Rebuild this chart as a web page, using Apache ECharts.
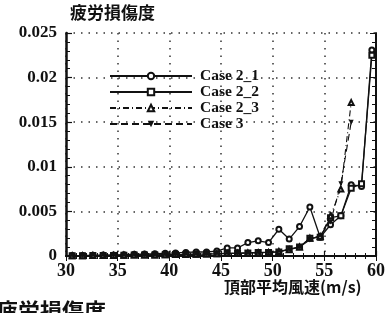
<!DOCTYPE html>
<html>
<head>
<meta charset="utf-8">
<script src="https://cdn.jsdelivr.net/npm/echarts@6/dist/echarts.min.js"></script>
<style>
  html, body { margin: 0; padding: 0; background: #fff; }
  #chartDom { width: 388px; height: 313px; }
</style>
</head>
<body>
<div id="chartDom"></div>
<script>
// wind speed (m/s) of each computed point
var windSpeed = [30.6, 31.6, 32.6, 33.6, 34.6, 35.6, 36.6, 37.6, 38.6, 39.6,
                 40.6, 41.6, 42.6, 43.6, 44.6, 45.6, 46.6, 47.6, 48.6, 49.6,
                 50.6, 51.6, 52.6, 53.6, 54.6, 55.6, 56.6, 57.6, 58.6, 59.6];

// fatigue damage per case
var case2_1 = [0.00005, 0.00006, 0.00008, 0.0001, 0.00012, 0.00015, 0.0002, 0.00022, 0.00025, 0.0003,
               0.00035, 0.0004, 0.00045, 0.00045, 0.00055, 0.0009, 0.0009, 0.0015, 0.0017, 0.0015,
               0.003, 0.0019, 0.0033, 0.0055, 0.0021, 0.0035, 0.0045, 0.008, 0.0078, 0.0231];
var case2_2 = [0.00003, 0.00004, 0.00005, 0.00006, 0.00007, 0.00008, 0.0001, 0.00011, 0.00012, 0.00014,
               0.00016, 0.00018, 0.0002, 0.00022, 0.00025, 0.0003, 0.00032, 0.00035, 0.0004, 0.0004,
               0.00045, 0.0008, 0.001, 0.002, 0.0021, 0.0043, 0.0045, 0.0076, 0.0081, 0.0225];
var case2_3 = [0.00003, 0.00004, 0.00005, 0.00006, 0.00007, 0.00008, 0.0001, 0.00011, 0.00012, 0.00014,
               0.00016, 0.00018, 0.0002, 0.00022, 0.00025, 0.00028, 0.0003, 0.00033, 0.00036, 0.0004,
               0.0005, 0.0007, 0.001, 0.002, 0.0022, 0.0045, 0.0075, 0.0172, null, null];
var case3   = [0.00003, 0.00004, 0.00005, 0.00006, 0.00007, 0.00008, 0.0001, 0.00011, 0.00012, 0.00014,
               0.00016, 0.00018, 0.0002, 0.00022, 0.00025, 0.00028, 0.0003, 0.00033, 0.00036, 0.0004,
               0.0005, 0.0007, 0.001, 0.0018, 0.0023, 0.0038, 0.0081, 0.015, null, null];

var xTicks = [30, 35, 40, 45, 50, 55, 60];
var yTicks = [0, 0.005, 0.01, 0.015, 0.02, 0.025];

function pairs(vals) {
  var out = [];
  for (var i = 0; i < windSpeed.length; i++) {
    if (vals[i] !== null) out.push([windSpeed[i], vals[i]]);
  }
  return out;
}

var ink = '#111';
var serif = '"Liberation Serif", "DejaVu Serif", serif';
var cjk = '"Noto Sans CJK JP", "Noto Sans CJK SC", sans-serif';

var chartDom = echarts.init(document.getElementById('chartDom'));

function tickFmt(v) {
  return String(Math.round(v * 1000) / 1000);
}

var baseSeries = {
  type: 'line',
  symbolSize: 5,
  color: ink,
  animation: false
};

chartDom.setOption({
  animation: false,
  textStyle: { fontFamily: serif, color: ink },
  grid: { left: 66, right: 5, top: 33, bottom: 57 },
  legend: {
    orient: 'vertical',
    left: 104,
    top: 63,
    itemWidth: 82,
    itemHeight: 8,
    itemGap: 0,
    textStyle: { fontFamily: serif, fontSize: 15.5, color: ink, fontWeight: 'bold', padding: [0, 0, 0, 3], lineHeight: 15.5 },
    data: ['Case 2_1', 'Case 2_2', 'Case 2_3', 'Case 3']
  },
  xAxis: [{
    type: 'value',
    min: xTicks[0],
    max: xTicks[xTicks.length - 1],
    interval: 5,
    axisLine: { lineStyle: { color: ink, width: 2 } },
    axisTick: { inside: true, length: 5, lineStyle: { color: ink, width: 1.2 } },
    minorTick: { show: true, splitNumber: 5, length: 3, lineStyle: { color: ink } },
    axisLabel: { fontSize: 18, fontWeight: 'bold', color: ink, fontFamily: serif, margin: 6 },
    splitLine: { show: true, lineStyle: { color: '#333', type: [1.5, 6], width: 1.5 } }
  }, {
    type: 'value',
    position: 'top',
    min: xTicks[0],
    max: xTicks[xTicks.length - 1],
    interval: 5,
    axisLine: { show: true, lineStyle: { color: ink, width: 2 } },
    axisTick: { inside: true, length: 5, lineStyle: { color: ink } },
    minorTick: { show: true, splitNumber: 5, length: 3, lineStyle: { color: ink } },
    axisLabel: { show: false },
    splitLine: { show: false }
  }],
  yAxis: [{
    type: 'value',
    min: yTicks[0],
    max: yTicks[yTicks.length - 1],
    interval: 0.005,
    axisLine: { show: true, lineStyle: { color: ink, width: 2.5 } },
    axisTick: { inside: true, length: 6, lineStyle: { color: ink, width: 1.2 } },
    minorTick: { show: true, splitNumber: 5, length: 4, lineStyle: { color: ink } },
    axisLabel: { fontSize: 17, fontWeight: 'bold', color: ink, fontFamily: serif, margin: 9, formatter: tickFmt },
    splitLine: { show: true, lineStyle: { color: '#333', type: [1.5, 6], width: 1.5 } }
  }, {
    type: 'value',
    position: 'right',
    min: yTicks[0],
    max: yTicks[yTicks.length - 1],
    interval: 0.005,
    axisLine: { show: true, lineStyle: { color: ink, width: 2 } },
    axisTick: { inside: true, length: 6, lineStyle: { color: ink } },
    minorTick: { show: true, splitNumber: 5, length: 4, lineStyle: { color: ink } },
    axisLabel: { show: false },
    splitLine: { show: false }
  }],
  series: [
    Object.assign({}, baseSeries, {
      name: 'Case 2_1', symbol: 'emptyCircle',
      lineStyle: { color: ink, width: 1.3 },
      data: pairs(case2_1)
    }),
    Object.assign({}, baseSeries, {
      name: 'Case 2_2', symbol: 'emptyRect',
      lineStyle: { color: ink, width: 1.3 },
      data: pairs(case2_2)
    }),
    Object.assign({}, baseSeries, {
      name: 'Case 2_3', symbol: 'emptyTriangle',
      lineStyle: { color: ink, width: 1.1, type: [6, 3, 1, 3] },
      data: pairs(case2_3)
    }),
    Object.assign({}, baseSeries, {
      name: 'Case 3', symbol: 'triangle', symbolRotate: 180,
      lineStyle: { color: ink, width: 1.1, type: [7, 4] },
      data: pairs(case3)
    })
  ],
  graphic: [
    {
      type: 'text', left: 70, top: 4,
      style: { text: '疲労損傷度', font: 'bold 17px ' + cjk, fill: ink }
    },
    {
      type: 'text', left: 224, top: 279,
      style: { text: '頂部平均風速(m/s)', font: 'bold 16px ' + cjk, fill: ink }
    },
    {
      type: 'text', left: -4, top: 300,
      style: { text: '疲労損傷度', font: 'bold 22px ' + cjk, fill: ink }
    }
  ]
});
</script>
</body>
</html>
